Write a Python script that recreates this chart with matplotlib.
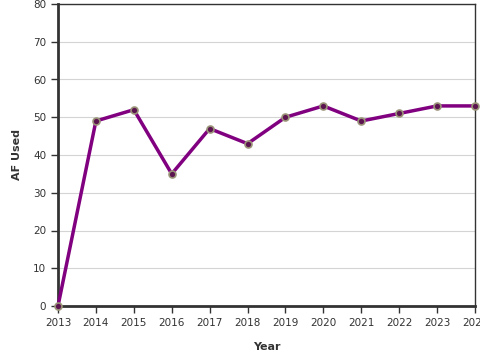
import matplotlib
matplotlib.use("Agg")
import matplotlib.pyplot as plt

years = [2013, 2014, 2015, 2016, 2017, 2018, 2019, 2020, 2021, 2022, 2023, 2024]
af_used = [0, 49, 52, 35, 47, 43, 50, 53, 49, 51, 53, 53]
yticks = [0, 10, 20, 30, 40, 50, 60, 70, 80]

fig = plt.figure(figsize=(4.8, 3.6), dpi=100)
ax = fig.add_axes([58/480, 54/360, (475-58)/480, (306-4)/360])

ax.plot(years, af_used, color="#800080", linewidth=2.5, marker="o", markersize=5,
        markerfacecolor="#5c1450", markeredgecolor="#9a9478", markeredgewidth=1.2,
        clip_on=False, zorder=3)

ax.set_xlim(2013, 2024)
ax.set_ylim(0, 80)
ax.set_xticks(years)
ax.set_xticklabels([str(y) for y in years])
ax.set_yticks(yticks)
ax.grid(axis="y", color="#d4d4d4", linewidth=0.8)
ax.set_axisbelow(True)

for s in ["left", "bottom"]:
    ax.spines[s].set_linewidth(2)
    ax.spines[s].set_color("#333333")
for s in ["top", "right"]:
    ax.spines[s].set_linewidth(1)
    ax.spines[s].set_color("#333333")

ax.tick_params(axis="both", labelsize=7.5, length=5, width=1, color="#333333", labelcolor="#333333")
ax.set_xlabel("Year", fontsize=8, fontweight="bold", color="#333333", labelpad=10)
ax.set_ylabel("AF Used", fontsize=8, fontweight="bold", color="#333333", labelpad=8)

fig.savefig("out.png", dpi=100)
